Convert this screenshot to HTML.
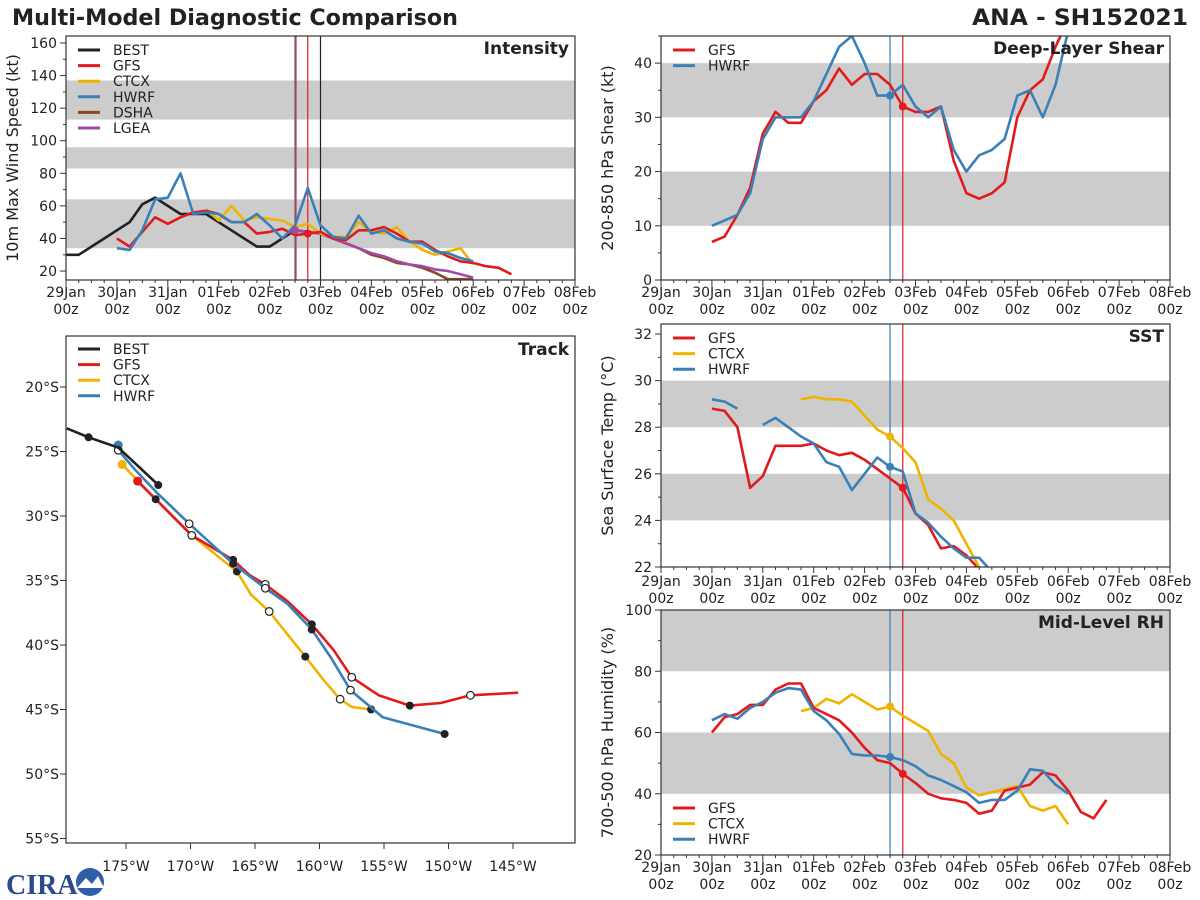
<!DOCTYPE html>
<html><head><meta charset="utf-8"><style>
body{margin:0;background:#fff;}
svg{display:block;font-family:"DejaVu Sans","Liberation Sans",sans-serif;}
</style></head><body>
<svg id="chart" width="1200" height="900" viewBox="0 0 1200 900" xmlns="http://www.w3.org/2000/svg">
<text x="12" y="25" font-size="22" font-weight="bold" fill="#222" textLength="446" lengthAdjust="spacingAndGlyphs">Multi-Model Diagnostic Comparison</text>
<text x="972" y="25" font-size="22" font-weight="bold" fill="#222" textLength="216" lengthAdjust="spacingAndGlyphs">ANA - SH152021</text>
<g>
<text x="6" y="894" font-size="28" font-weight="bold" fill="#2a4a8a" font-family="Liberation Serif, serif">CIRA</text>
<circle cx="90" cy="882" r="14" fill="#2f5fa8"/>
<path d="M77 888 L86 878 L92 884 L98 876 L104 888 Z" fill="#fff"/>
</g>
</svg>
<script>
// ---------- data ----------
const COL={BEST:'#222222',GFS:'#e31a1c',CTCX:'#f0b400',HWRF:'#3a80b8',DSHA:'#8c4a1c',LGEA:'#a04aa8'};
const dayLabels=['29Jan','30Jan','31Jan','01Feb','02Feb','03Feb','04Feb','05Feb','06Feb','07Feb','08Feb'];
// intensity (kt), 6-hourly, start day offsets
const bestIntStart=0; const bestInt=[30,30,35,40,45,50,61,65,60,55,55,55,50,45,40,35,35,40,45,44];
const gfsIntStart=1.0; const gfsInt=[40,35,44,53,49,53,56,57,55,50,50,43,44,46,42,43,44,40,39,45,45,47,43,38,38,33,29,26,25,23,22,18];
const hwrfIntStart=1.0; const hwrfInt=[34,33,45,64,65,80,55,56,55,50,50,55,48,40,48,71,48,41,40,54,43,45,40,38,37,32,31,28,26];
const ctcxIntStart=2.75; const ctcxInt=[58,51,60,51,53,52,51,47,49,43,41,41,50,44,43,47,38,33,30,32,34,24];
const dshaIntStart=4.5; const dshaInt=[45,44,43,40,37,34,30,28,25,24,22,19,15,15,15];
const lgeaIntStart=4.5; const lgeaInt=[45,44,43,40,37,34,31,29,26,24,23,21,20,18,16];
// shear (kt)
const gfsShearStart=1.0; const gfsShear=[7,8,12,17,27,31,29,29,33,35,39,36,38,38,36,32,31,31,32,22,16,15,16,18,30,35,37,43,48];
const hwrfShearStart=1.0; const hwrfShear=[10,11,12,16,26,30,30,30,33,38,43,45,40,34,34,36,32,30,32,24,20,23,24,26,34,35,30,36,46];
// SST (C)
const gfsSstStart=1.0; const gfsSst=[28.8,28.7,28.0,25.4,25.9,27.2,27.2,27.2,27.3,27.0,26.8,26.9,26.6,26.2,25.8,25.4,24.3,23.8,22.8,22.9,22.5,21.9];
const hwrfSstStartA=1.0; const hwrfSstA=[29.2,29.1,28.8];
const hwrfSstStart=2.0; const hwrfSst=[28.1,28.4,28.0,27.6,27.3,26.5,26.3,25.3,26.0,26.7,26.3,26.1,24.3,23.9,23.3,22.8,22.4,22.4,21.8];
const ctcxSstStart=2.75; const ctcxSst=[29.2,29.3,29.2,29.2,29.1,28.5,27.9,27.6,27.1,26.5,24.9,24.5,24.0,23.0,22.0,21.0];
// RH (%)
const gfsRhStart=1.0; const gfsRh=[60,65,66,69,69,74,76,76,68,66,64,60,55,51,50,46.5,43.5,40,38.5,38,37,33.5,34.5,41,42,43,47,46,41,34,32,38];
const hwrfRhStart=1.0; const hwrfRh=[64,66,64.5,68,70,73,74.5,74,67,64,59.5,53,52.5,52.5,52,51,49,46,44.5,42.5,40.5,37,38,38,41,48,47.5,43,40];
const ctcxRhStart=2.75; const ctcxRh=[67,68,71,69.5,72.5,70,67.5,68.5,65.5,63,60.5,53,50,42,39.5,40.5,41.5,42.5,36,34.5,36,30];
// track (lon, lat)
const bestLon=[-179.6,-177.9,-175.6,-172.5]; const bestLat=[-23.2,-23.9,-24.7,-27.6];
const gfsLon=[-174.1,-172.7,-169.9,-166.7,-165.4,-164.2,-162.5,-160.6,-158.9,-157.5,-155.4,-153.0,-150.6,-148.3,-144.6];
const gfsLat=[-27.3,-28.7,-31.5,-33.4,-34.6,-35.3,-36.6,-38.4,-40.4,-42.5,-43.9,-44.7,-44.5,-43.9,-43.7];
const gfsFilled=[1,3,7,11]; const gfsOpen=[2,5,9,13];
const hwrfLon=[-175.6,-175.6,-174.3,-172.6,-170.1,-166.7,-164.2,-162.5,-160.6,-159.1,-157.6,-155.1,-150.3];
const hwrfLat=[-24.5,-24.9,-26.4,-28.2,-30.6,-33.7,-35.6,-36.8,-38.8,-41.0,-43.5,-45.6,-46.9];
const hwrfFilled=[5,8,12]; const hwrfOpen=[1,4,6,10];
const ctcxLon=[-175.3,-172.9,-169.9,-166.4,-165.3,-163.9,-161.1,-159.7,-158.4,-157.5,-156.0];
const ctcxLat=[-26.0,-28.5,-31.5,-34.3,-36.1,-37.4,-40.9,-42.7,-44.2,-44.8,-45.0];
const ctcxFilled=[3,6,10]; const ctcxOpen=[2,5,8];
const lonTicks=[-175,-170,-165,-160,-155,-150,-145];
const latTicks=[-20,-25,-30,-35,-40,-45,-50,-55];

// ---------- drawing ----------
const NS='http://www.w3.org/2000/svg';
const svg=document.getElementById('chart');
function mk(tag,attrs,parent){const e=document.createElementNS(NS,tag);for(const k in attrs)e.setAttribute(k,attrs[k]);(parent||svg).appendChild(e);return e;}
let clipN=0;
function panel(name,x0,x1,y0,y1,vmin,vmax,bands,yticks,yminor,ylabel,title,xlabY,showX){
  const g=mk('g',{});
  
  
  const P={x0,x1,y0,y1,g};
  P.x=t=>x0+(x1-x0)*t/10;
  P.y=v=>y1-(y1-y0)*(v-vmin)/(vmax-vmin);
  bands.forEach(b=>{const r=mk('rect',{x:x0,y:P.y(b[1]),width:x1-x0,height:P.y(b[0])-P.y(b[1]),fill:'#cccccc'},g);
    
    });
  const id='c'+(clipN++);
  const cp=mk('clipPath',{id},g);mk('rect',{x:x0,y:y0,width:x1-x0,height:y1-y0},cp);
  P.plot=mk('g',{'clip-path':'url(#'+id+')'},g);
  P.over=mk('g',{},g);
  mk('rect',{x:x0,y:y0,width:x1-x0,height:y1-y0,fill:'none',stroke:'#333','stroke-width':1.2},P.over);
  if(yticks){
    yticks.forEach(v=>{const yy=P.y(v);mk('line',{x1:x0-6,x2:x0,y1:yy,y2:yy,stroke:'#333'},P.over);
      const t=mk('text',{x:x0-9,y:yy+5,'font-size':14,'text-anchor':'end',fill:'#222'},P.over);t.textContent=v;
      
      });
    (yminor||[]).forEach(v=>{const yy=P.y(v);mk('line',{x1:x0-3,x2:x0,y1:yy,y2:yy,stroke:'#333'},P.over);});
  }
  if(showX){
    for(let i=0;i<=40;i++){const xx=P.x(i/4);mk('line',{x1:xx,x2:xx,y1:y1,y2:y1+(i%4?3:6),stroke:'#333'},P.over);}
    dayLabels.forEach((d,i)=>{const xx=P.x(i);
      const a=mk('text',{x:xx,y:xlabY,'font-size':14,'text-anchor':'middle',fill:'#222'},P.over);a.textContent=d;
      
      
      const b=mk('text',{x:xx,y:xlabY+17,'font-size':14,'text-anchor':'middle',fill:'#222'},P.over);b.textContent='00z';});
  }
  if(ylabel){const cy=(y0+y1)/2;const t=mk('text',{x:0,y:0,'font-size':16,'text-anchor':'middle',fill:'#222',transform:`translate(${x0-48},${cy}) rotate(-90)`},P.over);t.textContent=ylabel;
    
    }
  const tt=mk('text',{x:x1-6,y:y0+18,'font-size':17,'font-weight':'bold','text-anchor':'end',fill:'#222'},P.over);tt.textContent=title;
  
  
  return P;
}
function series(P,start,vals,color,name){
  const pts=vals.map((v,i)=>P.x(start+i*0.25).toFixed(1)+','+P.y(v).toFixed(1)).join(' ');
  const l=mk('polyline',{points:pts,fill:'none',stroke:color,'stroke-width':2.6,'stroke-linejoin':'round'},P.plot);
  
  
}
function dot(P,start,vals,t,color){const i=Math.round((t-start)/0.25);mk('circle',{cx:P.x(t),cy:P.y(vals[i]),r:4,fill:color},P.plot);}
function vline(P,t,color){mk('line',{x1:P.x(t),x2:P.x(t),y1:P.y0,y2:P.y1,stroke:color,'stroke-width':1.2},P.plot);}
function legend(P,x,y,items){
  items.forEach((it,i)=>{const yy=y+i*15.6;
    const g=mk('g',{},P.over);
    
    
    mk('line',{x1:x,x2:x+22,y1:yy,y2:yy,stroke:COL[it],'stroke-width':3},g);
    const t=mk('text',{x:x+35,y:yy+5,'font-size':14,fill:'#222'},g);t.textContent=it;});
}
const r=(a,b,s)=>{const o=[];for(let v=a;v<=b;v+=s)o.push(v);return o;};

// Intensity
const PI=panel('intensity',66,575,36,280,14.5,164.3,[[34,64],[83,96],[113,137]],r(20,160,20),r(30,150,20),'10m Max Wind Speed (kt)','Intensity',297,true);
vline(PI,4.5,'#8c4a1c');vline(PI,4.5+0.02,'#a04aa8');vline(PI,4.75,'#e31a1c');vline(PI,5.0,'#222');
series(PI,bestIntStart,bestInt,COL.BEST,'best-intensity-line');
series(PI,dshaIntStart,dshaInt,COL.DSHA,'dsha-intensity-line');
series(PI,lgeaIntStart,lgeaInt,COL.LGEA,'lgea-intensity-line');
series(PI,ctcxIntStart,ctcxInt,COL.CTCX,'ctcx-intensity-line');
series(PI,gfsIntStart,gfsInt,COL.GFS,'gfs-intensity-line');
series(PI,hwrfIntStart,hwrfInt,COL.HWRF,'hwrf-intensity-line');
dot(PI,lgeaIntStart,lgeaInt,4.5,COL.LGEA);dot(PI,gfsIntStart,gfsInt,4.75,COL.GFS);
legend(PI,78,50,['BEST','GFS','CTCX','HWRF','DSHA','LGEA']);

// Shear
const PS=panel('shear',661,1170,36,280,0,45,[[10,20],[30,40]],r(0,40,10),r(5,45,10),'200-850 hPa Shear (kt)','Deep-Layer Shear',297,true);
vline(PS,4.5,COL.HWRF);vline(PS,4.75,COL.GFS);
series(PS,gfsShearStart,gfsShear,COL.GFS,'gfs-shear-line');
series(PS,hwrfShearStart,hwrfShear,COL.HWRF,'hwrf-shear-line');
dot(PS,hwrfShearStart,hwrfShear,4.5,COL.HWRF);dot(PS,gfsShearStart,gfsShear,4.75,COL.GFS);
legend(PS,673,50,['GFS','HWRF']);

// SST
const PT=panel('sst',661,1170,324,567,22,32.43,[[24,26],[28,30]],r(22,32,2),r(23,31,2),'Sea Surface Temp (°C)','SST',586,true);
vline(PT,4.5,COL.HWRF);vline(PT,4.75,COL.GFS);
series(PT,gfsSstStart,gfsSst,COL.GFS,'gfs-sst-line');
series(PT,ctcxSstStart,ctcxSst,COL.CTCX,'ctcx-sst-line');
series(PT,hwrfSstStartA,hwrfSstA,COL.HWRF,'hwrf-sst-line-early');
series(PT,hwrfSstStart,hwrfSst,COL.HWRF,'hwrf-sst-line');
dot(PT,ctcxSstStart,ctcxSst,4.5,COL.CTCX);dot(PT,hwrfSstStart,hwrfSst,4.5,COL.HWRF);dot(PT,gfsSstStart,gfsSst,4.75,COL.GFS);
legend(PT,673,338,['GFS','CTCX','HWRF']);

// RH
const PR=panel('rh',661,1170,610,855,20,100,[[40,60],[80,100]],r(20,100,20),r(30,90,20),'700-500 hPa Humidity (%)','Mid-Level RH',872,true);
vline(PR,4.5,COL.HWRF);vline(PR,4.75,COL.GFS);
series(PR,ctcxRhStart,ctcxRh,COL.CTCX,'ctcx-rh-line');
series(PR,gfsRhStart,gfsRh,COL.GFS,'gfs-rh-line');
series(PR,hwrfRhStart,hwrfRh,COL.HWRF,'hwrf-rh-line');
dot(PR,ctcxRhStart,ctcxRh,4.5,COL.CTCX);dot(PR,hwrfRhStart,hwrfRh,4.5,COL.HWRF);dot(PR,gfsRhStart,gfsRh,4.75,COL.GFS);
legend(PR,673,808,['GFS','CTCX','HWRF']);

// Track
const tg=mk('g',{});


const lonX=lo=>126+(lo+175)*12.9;
const latY=la=>387+(-la-20)*12.9;
const tcp=mk('clipPath',{id:'tclip'},tg);
mk('rect',{x:66,y:336,width:509,height:507},tcp);
const tp=mk('g',{'clip-path':'url(#tclip)'},tg);
function track(lons,lats,color,name,filled,open,startDot){
  const pts=lons.map((lo,i)=>lonX(lo).toFixed(1)+','+latY(lats[i]).toFixed(1)).join(' ');
  const l=mk('polyline',{points:pts,fill:'none',stroke:color,'stroke-width':2.6,'stroke-linejoin':'round'},tp);
  
  
  if(startDot) mk('circle',{cx:lonX(lons[0]),cy:latY(lats[0]),r:4.5,fill:color},tp);
  (filled||[]).forEach(i=>mk('circle',{cx:lonX(lons[i]),cy:latY(lats[i]),r:4,fill:'#222'},tp));
  (open||[]).forEach(i=>mk('circle',{cx:lonX(lons[i]),cy:latY(lats[i]),r:3.8,fill:'#fff',stroke:'#222','stroke-width':1.2},tp));
}
track(ctcxLon,ctcxLat,COL.CTCX,'ctcx-track',ctcxFilled,ctcxOpen,true);
track(gfsLon,gfsLat,COL.GFS,'gfs-track',gfsFilled,gfsOpen,true);
track(hwrfLon,hwrfLat,COL.HWRF,'hwrf-track',hwrfFilled,hwrfOpen,true);
track(bestLon,bestLat,COL.BEST,'best-track',[1,3],[],false);
mk('rect',{x:66,y:336,width:509,height:507,fill:'none',stroke:'#333','stroke-width':1.2},tg);
const tt=mk('text',{x:569,y:355,'font-size':17,'font-weight':'bold','text-anchor':'end',fill:'#222'},tg);tt.textContent='Track';
lonTicks.forEach(lo=>{const xx=lonX(lo);mk('line',{x1:xx,x2:xx,y1:843,y2:849,stroke:'#333'},tg);
  const t=mk('text',{x:xx,y:871,'font-size':14,'text-anchor':'middle',fill:'#222'},tg);t.textContent=(-lo)+'°W';
  
  });
latTicks.forEach(la=>{const yy=latY(la);mk('line',{x1:60,x2:66,y1:yy,y2:yy,stroke:'#333'},tg);
  const t=mk('text',{x:59,y:yy+5,'font-size':14,'text-anchor':'end',fill:'#222'},tg);t.textContent=(-la)+'°S';
  
  });
legend({over:tg},78,349,['BEST','GFS','CTCX','HWRF']);
</script>
</body></html>
